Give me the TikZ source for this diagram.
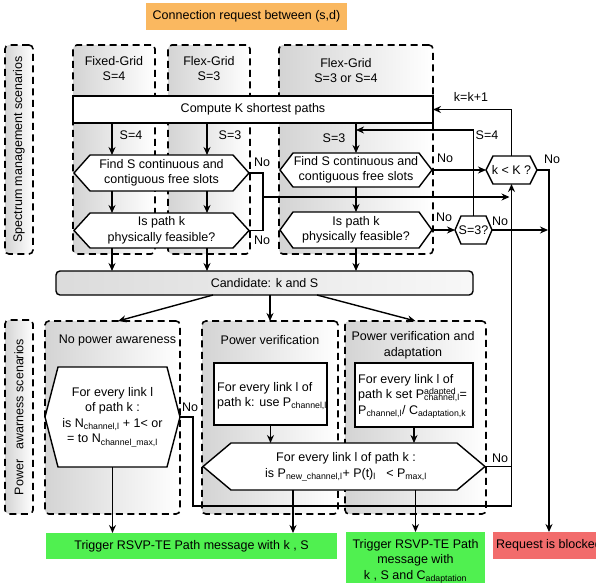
\documentclass[tikz,border=0pt]{standalone}
\usepackage{fontspec}
\setmainfont{Liberation Sans}
\usetikzlibrary{arrows.meta,calc}
\definecolor{orangebox}{RGB}{250,184,96}
\definecolor{greenbox}{RGB}{80,240,80}
\definecolor{redbox}{RGB}{242,108,108}
\pgfdeclarelayer{back}
\pgfdeclarelayer{fills}
\pgfsetlayers{back,fills,main}
\newcommand\hexdraw[2]{\begin{pgfonlayer}{fills}\draw[ln,fill=white] (#1.west) -- ([xshift=#2]#1.north west) -- ([xshift=-#2]#1.north east) -- (#1.east) -- ([xshift=-#2]#1.south east) -- ([xshift=#2]#1.south west) -- cycle;\end{pgfonlayer}}
\begin{document}
\begin{tikzpicture}[x=1pt,y=-1pt,
  font=\fontsize{12.5}{15.5}\selectfont,
  ln/.style={line width=1.4pt},
  arr/.style={ln,-{Stealth[length=8pt,width=7pt]}},
  dashbox/.style={draw,line width=1.6pt,dash pattern=on 7pt off 4.5pt,rounded corners=4pt,left color=gray!34,right color=white,inner sep=0pt,outer sep=0pt},
  box/.style={draw,line width=1.4pt,fill=white,inner sep=0pt,outer sep=0pt},
  hx/.style={inner sep=0pt,outer sep=0pt,align=center},
  lab/.style={inner sep=0pt,align=center},
  labl/.style={inner sep=0pt,align=left,anchor=west},
]
\useasboundingbox (0,0) rectangle (596,582);
\clip (0,0) rectangle (596,582);

% ---------- background dashed boxes ----------
\begin{pgfonlayer}{back}
\node[dashbox,minimum width=28pt,minimum height=209pt] (spec) at (19,149.5) {};
\node[dashbox,minimum width=82pt,minimum height=209pt] (fg) at (114,149.5) {};
\node[dashbox,minimum width=82pt,minimum height=209pt] (fx3) at (209,149.5) {};
\node[dashbox,minimum width=154pt,minimum height=209pt] (fx34) at (356,149.5) {};
\node[dashbox,minimum width=28pt,minimum height=194pt] (pow) at (19,417) {};
\node[dashbox,minimum width=135pt,minimum height=193pt] (pb1) at (112.5,417.5) {};
\node[dashbox,minimum width=136pt,minimum height=193pt] (pb2) at (270,417.5) {};
\node[dashbox,minimum width=141pt,minimum height=193pt] (pb3) at (415.5,417.5) {};
\end{pgfonlayer}

% ---------- labels of scenario boxes ----------
\node[lab,rotate=90] (specl) at (19,149.5) {Spectrum management scenarios};
\node[lab,rotate=90] (powl) at (19,417) {Power\ \ \ awarness scenarios};
\node[lab] (fgl) at (114,68.5) {Fixed-Grid\\S=4};
\node[lab] (fx3l) at (209,68.5) {Flex-Grid\\S=3};
\node[lab] (fx34l) at (346,70.5) {Flex-Grid\\S=3 or S=4};
\node[lab] (pb1l) at (117.5,340) {No power awareness};
\node[lab] (pb2l) at (270,340) {Power verification};
\node[lab] (pb3l) at (413,345.5) {Power verification and\\adaptation};

% ---------- main nodes ----------
\node[fill=orangebox,minimum width=201pt,minimum height=27pt,inner sep=0pt] (req) at (246.5,16.5) {Connection request between (s,d)};
\node[box,minimum width=360pt,minimum height=27pt] (compute) at (253,109.5) {Compute K shortest paths};

\node[hx,minimum width=175pt,minimum height=36pt] (fs12) at (161.5,173) {Find S continuous and\\contiguous free slots};
\hexdraw{fs12}{16pt}
\node[hx,minimum width=175pt,minimum height=35pt] (ip12) at (161.5,230.5) {Is path k\\physically feasible?};
\hexdraw{ip12}{16pt}
\node[hx,minimum width=152pt,minimum height=34pt] (fs3) at (356,170) {Find S continuous and\\contiguous free slots};
\hexdraw{fs3}{13pt}
\node[hx,minimum width=152pt,minimum height=36pt] (ip3) at (356,230) {Is path k\\physically feasible?};
\hexdraw{ip3}{13pt}
\node[hx,minimum width=51pt,minimum height=28pt] (kK) at (511.5,170) {k < K ?};
\hexdraw{kK}{7pt}
\node[hx,minimum width=37pt,minimum height=28pt] (s3q) at (473.5,230) {S=3?};
\hexdraw{s3q}{6pt}

\node[draw,line width=1.4pt,rounded corners=4pt,left color=gray!28,right color=gray!6,minimum width=417pt,minimum height=24pt,inner sep=0pt,outer sep=0pt] (cand) at (264.5,283) {Candidate: k and S};

\node[hx,minimum width=135pt,minimum height=100pt] (trap) at (112.5,417) {For every link l\\of path k :\\is N\textsubscript{channel,l} + 1< or\\= to N\textsubscript{channel\_max,l}};
\hexdraw{trap}{13pt}
\node[box,minimum width=113pt,minimum height=62pt] (uP) at (270.5,394) {};
\node[labl] (uPt) at (217,396) {For every link l of\\path k: use P\textsubscript{channel,l}};
\node[box,minimum width=118pt,minimum height=64pt] (adP) at (414,395) {};
\node[labl] (adPt) at (358,396) {For every link l of\\path k set P\rlap{\textsuperscript{adapted}}\textsubscript{channel,l}=\\P\textsubscript{channel,l}/ C\textsubscript{adaptation,k}};
\node[hx,minimum width=282pt,minimum height=47pt] (bigH) at (344,466.5) {};
\hexdraw{bigH}{28pt}
\node[lab] (bigHt) at (346,467) {For every link l of path k :\\is P\textsubscript{new\_channel,l}+ P(t)\textsubscript{l}\ \ \ < P\textsubscript{max,l}};

\node[fill=greenbox,minimum width=291pt,minimum height=26pt,inner sep=0pt,outer sep=0pt] (g1) at (191.5,546) {Trigger RSVP-TE Path message with k , S};
\node[fill=greenbox,minimum width=139pt,minimum height=76pt,inner sep=0pt,outer sep=0pt] (g2) at (415.5,570) {};
\node[lab] (g2t) at (415.5,561) {Trigger RSVP-TE Path\\message with\\k , S and C\textsubscript{adaptation}};
\node[fill=redbox,minimum width=112pt,minimum height=27pt,inner sep=0pt,outer sep=0pt] (blk) at (549,545.5) {Request is blocked};

% ---------- column coordinates ----------
\coordinate (c1) at (112,0);
\coordinate (c2) at (207,0);
\coordinate (c3) at (356,0);
\coordinate (c5) at (293,0);
\coordinate (j1) at (263,197);
\coordinate (s4pt) at (356,130);
\coordinate (p1) at (193,506);

% ---------- spectrum connectors ----------
\draw[arr] (compute.south -| c1) -- (fs12.north -| c1);
\draw[arr] (compute.south -| c2) -- (fs12.north -| c2);
\draw[arr] (fs12.south -| c1) -- (ip12.north -| c1);
\draw[arr] (fs12.south -| c2) -- (ip12.north -| c2);
\draw[arr] (ip12.south -| c1) -- (cand.north -| c1);
\draw[arr] (ip12.south -| c2) -- (cand.north -| c2);
\draw[arr] (compute.south -| c3) -- (fs3.north -| c3);
\draw[arr] (fs3.south -| c3) -- (ip3.north -| c3);
\draw[arr] (ip3.south -| c3) -- (cand.north -| c3);
\node[lab] (l1) at (131,135) {S=4};
\node[lab] (l2) at (230,135) {S=3};
\node[lab] (l3) at (334,138) {S=3};

\draw[ln] (fs12.east) -| (j1);
\draw[ln] (ip12.east) -| (j1);
\draw[arr,shorten >=2pt] (j1) -- (j1 -| kK.south);
\node[lab] (no1) at (262,162) {No};
\node[lab] (no2) at (262,240) {No};

\draw[arr] (fs3.east) -- (kK.west);
\node[lab] (no3) at (445,158) {No};
\draw[arr] (ip3.east) -- (s3q.west);
\node[lab] (no4) at (444,217) {No};
\draw[arr] (s3q.north) |- (s4pt);
\node[lab] (l4) at (487,135) {S=4};
\draw[arr] (kK.north) |- (compute.east);
\node[lab] (l5) at (471,97) {k=k+1};
\draw[arr] (kK.east) -| (blk.north);
\node[lab] (no5) at (552,159) {No};
\draw[arr,shorten >=1pt] (s3q.east) -- (s3q.east -| blk.north);
\node[lab] (no6) at (500,221) {No};

% ---------- candidate to power boxes ----------
\draw[arr] ([xshift=-51.5pt]cand.south) -- ([xshift=5.5pt]pb1.north);
\draw[arr] (cand.south -| pb2.north) -- (pb2.north);
\draw[arr] ([xshift=52.5pt]cand.south) -- (pb3.north);

% ---------- power connectors ----------
\draw[arr] (trap.south) -- (trap.south |- g1.north);
\draw[arr] (uP.south) -- (uP.south |- bigH.north);
\draw[arr] (adP.south) -- (adP.south |- bigH.north);
\draw[arr] (bigH.south -| c5) -- (g1.north -| c5);
\draw[arr] (bigH.south -| g2.north) -- (g2.north);
\draw[arr] (trap.east) -| (p1) -| (kK.south);
\node[lab] (no7) at (190,407) {No};
\draw[ln] (bigH.east) -- (bigH.east -| kK.south);
\node[lab] (no8) at (500,458) {No};
\end{tikzpicture}
\end{document}
